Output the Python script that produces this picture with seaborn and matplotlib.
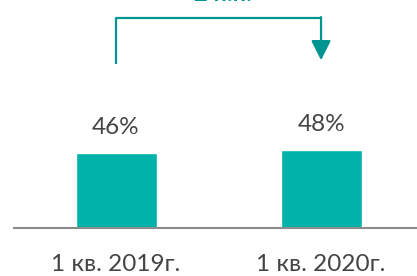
import matplotlib.pyplot as plt
import seaborn as sns
import pandas as pd

# данные
categories = ['1 кв. 2019г.', '1 кв. 2020г.']
values = [46, 48]
value_labels = ['46%', '48%']
delta_label = '2 п.п.'

sns.set_theme(style="white")
plt.rcParams['font.family'] = ['Lato', 'DejaVu Sans']

df = pd.DataFrame({'cat': categories, 'val': values})

fig = plt.figure(figsize=(4.17, 2.76), dpi=100)
# оси: от x=14px до правого края, базовая линия на y=228px
ax = fig.add_axes([14 / 417, 48 / 276, 403 / 417, 228 / 276])

sns.barplot(data=df, x='cat', y='val', color='#00B2A9', width=0.395,
            saturation=1, ax=ax)

ax.set_xlim(-0.4976, 1.468)
ax.set_ylim(0, 140)

for i, (v, lab) in enumerate(zip(values, value_labels)):
    ax.text(i, v + 9, lab, ha='center', va='bottom', fontsize=17.5,
            color='#454545')

# стрелка-скобка
tc = '#00968F'
y_top = 129
ax.plot([0, 0], [100.6, y_top], color=tc, lw=1.6, solid_capstyle='butt')
ax.plot([0, 1.0], [y_top, y_top], color=tc, lw=1.6)
ax.annotate('', xy=(1.0, 103), xytext=(1.0, y_top + 0.5),
            arrowprops=dict(arrowstyle='-|>,head_width=0.5,head_length=1.0',
                            color=tc, lw=1.6, shrinkA=0, shrinkB=0))
ax.text(0.523, 137, delta_label, ha='center', va='bottom', fontsize=17,
        fontweight='bold', color=tc, clip_on=False)

ax.set_xlabel('')
ax.set_ylabel('')
ax.set_yticks([])
ax.tick_params(axis='x', length=0, pad=19, labelsize=17.5, labelcolor='#454545')
for s in ['top', 'right', 'left']:
    ax.spines[s].set_visible(False)
ax.spines['bottom'].set_color('#8C8C8C')
ax.spines['bottom'].set_linewidth(1.5)

fig.savefig('out.png', dpi=100)
